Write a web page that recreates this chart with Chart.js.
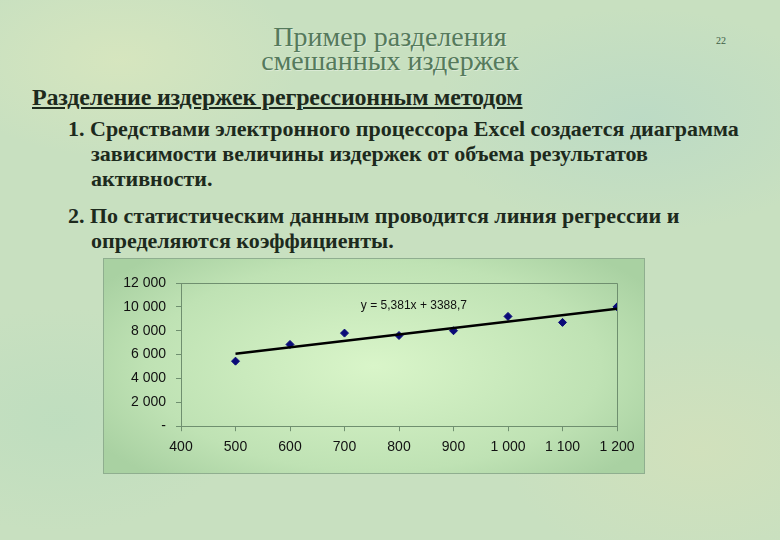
<!DOCTYPE html>
<html>
<head>
<meta charset="utf-8">
<script src="https://cdn.jsdelivr.net/npm/chart.js@4"></script>
<style>
  html, body { margin: 0; padding: 0; }
  body {
    width: 780px; height: 540px; overflow: hidden; position: relative;
    background:
      radial-gradient(ellipse 260px 140px at 120px 60px, rgba(220,232,190,0.7), rgba(220,232,190,0) 70%),
      radial-gradient(ellipse 300px 160px at 640px 120px, rgba(180,215,200,0.6), rgba(180,215,200,0) 70%),
      radial-gradient(ellipse 280px 180px at 700px 450px, rgba(215,225,185,0.6), rgba(215,225,185,0) 70%),
      radial-gradient(ellipse 260px 160px at 60px 420px, rgba(185,220,190,0.6), rgba(185,220,190,0) 70%),
      #c8e0c0;
    font-family: "Liberation Serif", "Times New Roman", serif;
  }
  .title {
    position: absolute; left: 190px; width: 400px; top: 25px;
    text-align: center; font-size: 28px; line-height: 24px;
    color: #557a5c; text-shadow: 1px 1px 0 rgba(255,255,255,0.35);
  }
  .num { position: absolute; left: 716px; top: 35px; font-size: 10px; color: #3e5e44; }
  .head {
    position: absolute; left: 32px; top: 84px; font-size: 24px; font-weight: bold;
    text-decoration: underline; color: #1d2a1d; letter-spacing: -0.2px;
  }
  .item {
    position: absolute; font-size: 22px; font-weight: bold; color: #1d2a1d;
    line-height: 25px; white-space: nowrap;
  }
  .item .cont { padding-left: 23px; }
  #box {
    position: absolute; left: 103px; top: 258px; width: 540px; height: 214px;
    border: 1px solid #8fae8f;
    background: radial-gradient(ellipse 60% 70% at 50% 50%, #d9f5c9, #bfe2b4 70%, #a9d1a2);
  }
</style>
</head>
<body>
<div class="title">Пример разделения<br>смешанных издержек</div>
<div class="num">22</div>
<div class="head">Разделение издержек регрессионным методом</div>
<div class="item" style="left:68px; top:116px;">1. Средствами электронного процессора Excel создается диаграмма<br><span class="cont">зависимости величины издержек от объема результатов</span><br><span class="cont">активности.</span></div>
<div class="item" style="left:68px; top:203px;">2. По статистическим данным проводится линия регрессии и<br><span class="cont">определяются коэффициенты.</span></div>
<div id="box"><canvas id="myChart" width="540" height="214"></canvas></div>
<script>
const volumes = [500, 600, 700, 800, 900, 1000, 1100, 1200];
const costs = [5450, 6850, 7800, 7600, 8000, 9200, 8700, 10000];
const trendX = [500, 1200];
const trendY = [6079, 9846];
const equation = 'y = 5,381x + 3388,7';

const fmt = (v) => v === 0 ? '-' : String(v).replace(/\B(?=(\d{3})+(?!\d))/g, ' ');

const frame = {
  id: 'frame',
  afterDraw(chart) {
    const {ctx, chartArea: a, scales} = chart;
    ctx.save();
    ctx.strokeStyle = '#6f8f6f';
    ctx.lineWidth = 1;
    ctx.beginPath();
    ctx.moveTo(a.left, a.top + 0.5);
    ctx.lineTo(a.right + 0.5, a.top + 0.5);
    ctx.lineTo(a.right + 0.5, a.bottom);
    ctx.stroke();
    ctx.fillStyle = '#111';
    ctx.font = '12px "Liberation Sans", Arial, sans-serif';
    ctx.textBaseline = 'middle';
    ctx.fillText(equation, scales.x.getPixelForValue(730), scales.y.getPixelForValue(10100));
    ctx.restore();
  }
};

const tickFont = {family: '"Liberation Sans", Arial, sans-serif', size: 14};

new Chart(document.getElementById('myChart').getContext('2d'), {
  type: 'scatter',
  data: {
    datasets: [{
      label: 'trend',
      type: 'line',
      data: trendX.map((x, i) => ({x: x, y: trendY[i]})),
      borderColor: '#000',
      borderWidth: 2.5,
      pointRadius: 0,
      order: 0
    }, {
      label: 'costs',
      data: volumes.map((x, i) => ({x: x, y: costs[i]})),
      pointStyle: 'rectRot',
      pointRadius: 4,
      backgroundColor: '#0a0a78',
      borderColor: '#0a0a78',
      order: 1
    }]
  },
  options: {
    responsive: false,
    animation: false,
    layout: {padding: {top: 24, right: 27, bottom: 9, left: 0}},
    plugins: {legend: {display: false}, tooltip: {enabled: false}},
    scales: {
      x: {
        type: 'linear', min: 400, max: 1200,
        ticks: {stepSize: 100, color: '#111', font: tickFont, padding: 8, callback: fmt, maxRotation: 0},
        grid: {drawOnChartArea: false, drawTicks: true, tickLength: 5, color: '#6f8f6f'},
        border: {color: '#6f8f6f'}
      },
      y: {
        min: 0, max: 12000,
        ticks: {stepSize: 2000, color: '#111', font: tickFont, padding: 10, callback: fmt},
        grid: {drawOnChartArea: false, drawTicks: true, tickLength: 5, color: '#6f8f6f'},
        border: {color: '#6f8f6f'},
        afterFit(scale) { scale.width = 77; }
      }
    }
  },
  plugins: [frame]
});
</script>
</body>
</html>
